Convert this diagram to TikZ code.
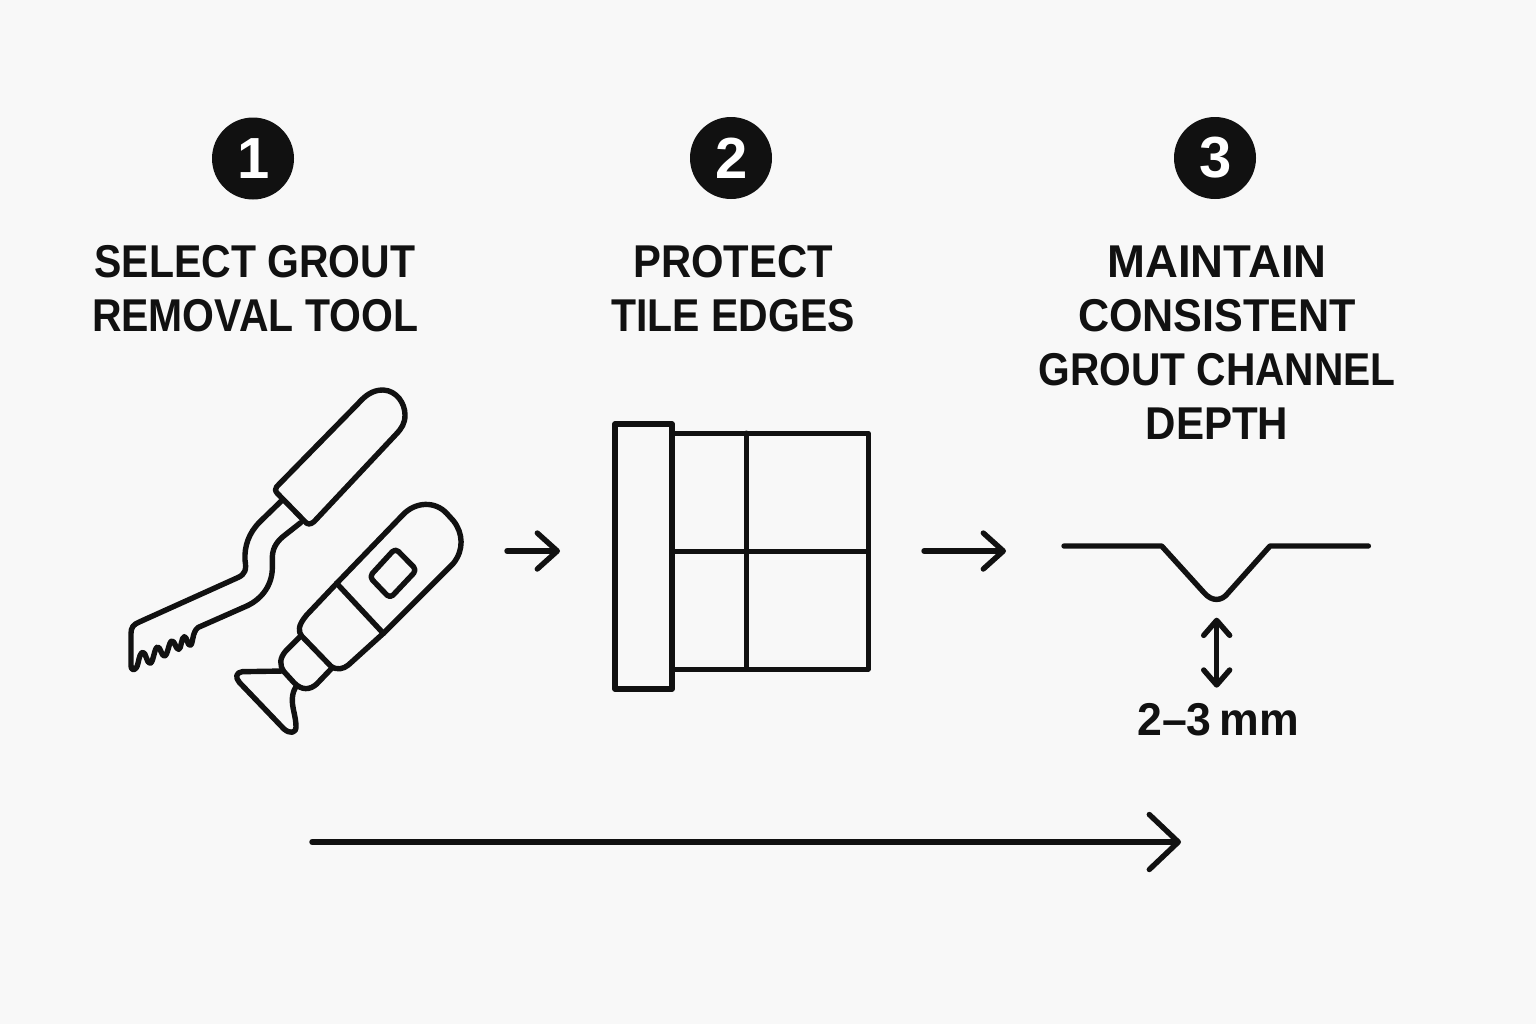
\documentclass[tikz,border=0pt]{standalone}
\usepackage{fontspec}
\setmainfont{Liberation Sans}
\newfontfamily\headfont[FakeStretch=0.89]{Liberation Sans}
\newfontfamily\headA[FakeStretch=0.99]{Liberation Sans}
\newfontfamily\headB[FakeStretch=0.937]{Liberation Sans}
\newfontfamily\headC[FakeStretch=0.885]{Liberation Sans}
\newfontfamily\headD[FakeStretch=0.915]{Liberation Sans}
\newfontfamily\headE[FakeStretch=0.908]{Liberation Sans}
\newfontfamily\headF[FakeStretch=0.97]{Liberation Sans}
\usetikzlibrary{arrows.meta}
\definecolor{ink}{HTML}{111111}
\definecolor{paper}{HTML}{F8F8F8}
\tikzset{
  icon/.style={draw=ink,line width=2.7pt,line join=round,line cap=round},
  grid line/.style={icon,line width=2.5pt},
  badge/.style={circle,fill=ink,text=white,minimum size=41pt,inner sep=0pt,font=\fontsize{29}{29}\selectfont\bfseries},
  heading/.style={text=ink,align=center,inner sep=0pt,font=\fontsize{23}{27}\headfont\bfseries},
  small arrow/.style={icon,-{Straight Barb[length=10pt,width=18pt,line width=2.7pt,round]}},
  big arrow/.style={icon,-{Straight Barb[length=14.5pt,width=27.5pt,line width=2.7pt,round]}},
  both arrow/.style={icon,{Straight Barb[length=7.5pt,width=13pt,line width=2.7pt,round]}-{Straight Barb[length=7.5pt,width=13pt,line width=2.7pt,round]}},
}
\begin{document}
\begin{tikzpicture}[x=0.5pt,y=-0.5pt]
\useasboundingbox[fill=paper] (0,0) rectangle (1536,1024);

\node[badge] (b1) at (253,158.5) {\hspace{1pt}1};
\node[badge] (b2) at (731,158) {\hspace{1pt}2};
\node[badge] (b3) at (1215,158) {\hspace{1pt}3};

\node[heading] (t1) at (255,289) {SELECT GROUT\\REMOVAL TOOL};
\node[heading] (t2) at (733,289) {{\headE\bfseries PROTECT}\\TILE EDGES};
\node[heading] (t3) at (1217,343) {{\headA\bfseries MAINTAIN}\\{\headB\bfseries CONSISTENT}\\{\headC\bfseries GROUT CHANNEL}\\{\headD\bfseries DEPTH}};

% Tools
\begin{scope}[shift={(110,370)},x=0.16667pt,y=-0.16667pt]
  % chisel handle
  \draw[icon] (500,350) -- (745,100) .. controls (775,65) and (800,60) .. (820,60)
     .. controls (860,62) and (885,100) .. (885,135)
     .. controls (885,160) and (875,175) .. (858,193)
     -- (612,455) .. controls (600,465) and (592,463) .. (585,455)
     -- (502,370) .. controls (495,362) and (495,357) .. (500,350) -- cycle;
  % chisel shank and blade
  \draw[icon] (517,390) -- (450,455) .. controls (415,490) and (403,530) .. (405,570)
     .. controls (410,600) and (405,612) .. (385,622)
     -- (90,755) .. controls (70,763) and (63,772) .. (63,790)
     -- (63,885) .. controls (63,905) and (78,905) .. (84,880)
     .. controls (88,860) and (92,847) .. (99,847)
     .. controls (108,847) and (110,880) .. (120,880)
     .. controls (130,880) and (133,831) .. (143,831)
     .. controls (152,831) and (154,858) .. (163,858)
     .. controls (174,858) and (176,813) .. (186,813)
     .. controls (195,813) and (197,838) .. (206,838)
     .. controls (214,838) and (214,800) .. (223,800)
     .. controls (231,800) and (232,826) .. (240,826)
     .. controls (250,826) and (245,785) .. (265,772)
     -- (410,708) .. controls (460,685) and (488,640) .. (487,590)
     -- (487,560) .. controls (488,530) and (505,510) .. (525,495)
     -- (572,458);
  % power tool body
  \draw[icon] (680,640) -- (878,435) .. controls (915,395) and (975,392) .. (1010,430)
     -- (1030,452) .. controls (1060,490) and (1062,540) .. (1030,580)
     -- (820,790);
  \draw[icon] (680,640) -- (820,790);
  \draw[icon] (680,640) -- (590,735) .. controls (562,768) and (565,785) .. (575,798)
     -- (662,888) .. controls (680,902) and (700,897) .. (715,885)
     -- (820,790);
  % nose
  \draw[icon] (572,798) -- (528,842) .. controls (508,865) and (508,885) .. (522,905)
     -- (552,938) .. controls (575,962) and (600,960) .. (620,942)
     -- (665,895);
  % scraper head
  \draw[icon] (518,903) -- (397,905) .. controls (378,907) and (375,922) .. (388,937)
     -- (522,1077) .. controls (540,1092) and (558,1090) .. (558,1070)
     .. controls (558,1040) and (545,1010) .. (547,985)
     .. controls (548,970) and (552,960) .. (557,952);
  % switch
  \draw[icon,rounded corners=2.2pt] (856,535) -- (920,600) -- (840,685) -- (778,620) -- cycle;
\end{scope}

% Tile and edge guard
\draw[icon] (615,424) rectangle (672,689);
\draw[grid line] (672,433) -- (868,433) -- (868,669) -- (672,669);
\draw[grid line] (746,433) -- (746,669);
\draw[grid line] (672,551) -- (868,551);

% Groove
\begin{scope}[shift={(1050,520)},x=0.16667pt,y=-0.16667pt]
  \draw[icon] (42,78) -- (335,78) -- (462,218) .. controls (485,245) and (515,245) .. (535,218)
     -- (660,78) -- (955,78);
  \coordinate (dtop) at (500,293);
  \coordinate (dbot) at (500,503);
\end{scope}
\draw[both arrow] (dtop) -- (dbot);
\node[text=ink,inner sep=0pt,font=\fontsize{23}{27}\headF\bfseries] (dim) at (1218,720) {2–3\,mm};

% Flow arrows
\coordinate (a1s) at (507,551);
\coordinate (a1e) at (560,551);
\coordinate (a2s) at (924,551);
\coordinate (a2e) at (1006,551);
\coordinate (a3s) at (312,842);
\coordinate (a3e) at (1181,842);
\draw[small arrow] (a1s) -- (a1e);
\draw[small arrow] (a2s) -- (a2e);
\draw[big arrow] (a3s) -- (a3e);
\end{tikzpicture}
\end{document}
